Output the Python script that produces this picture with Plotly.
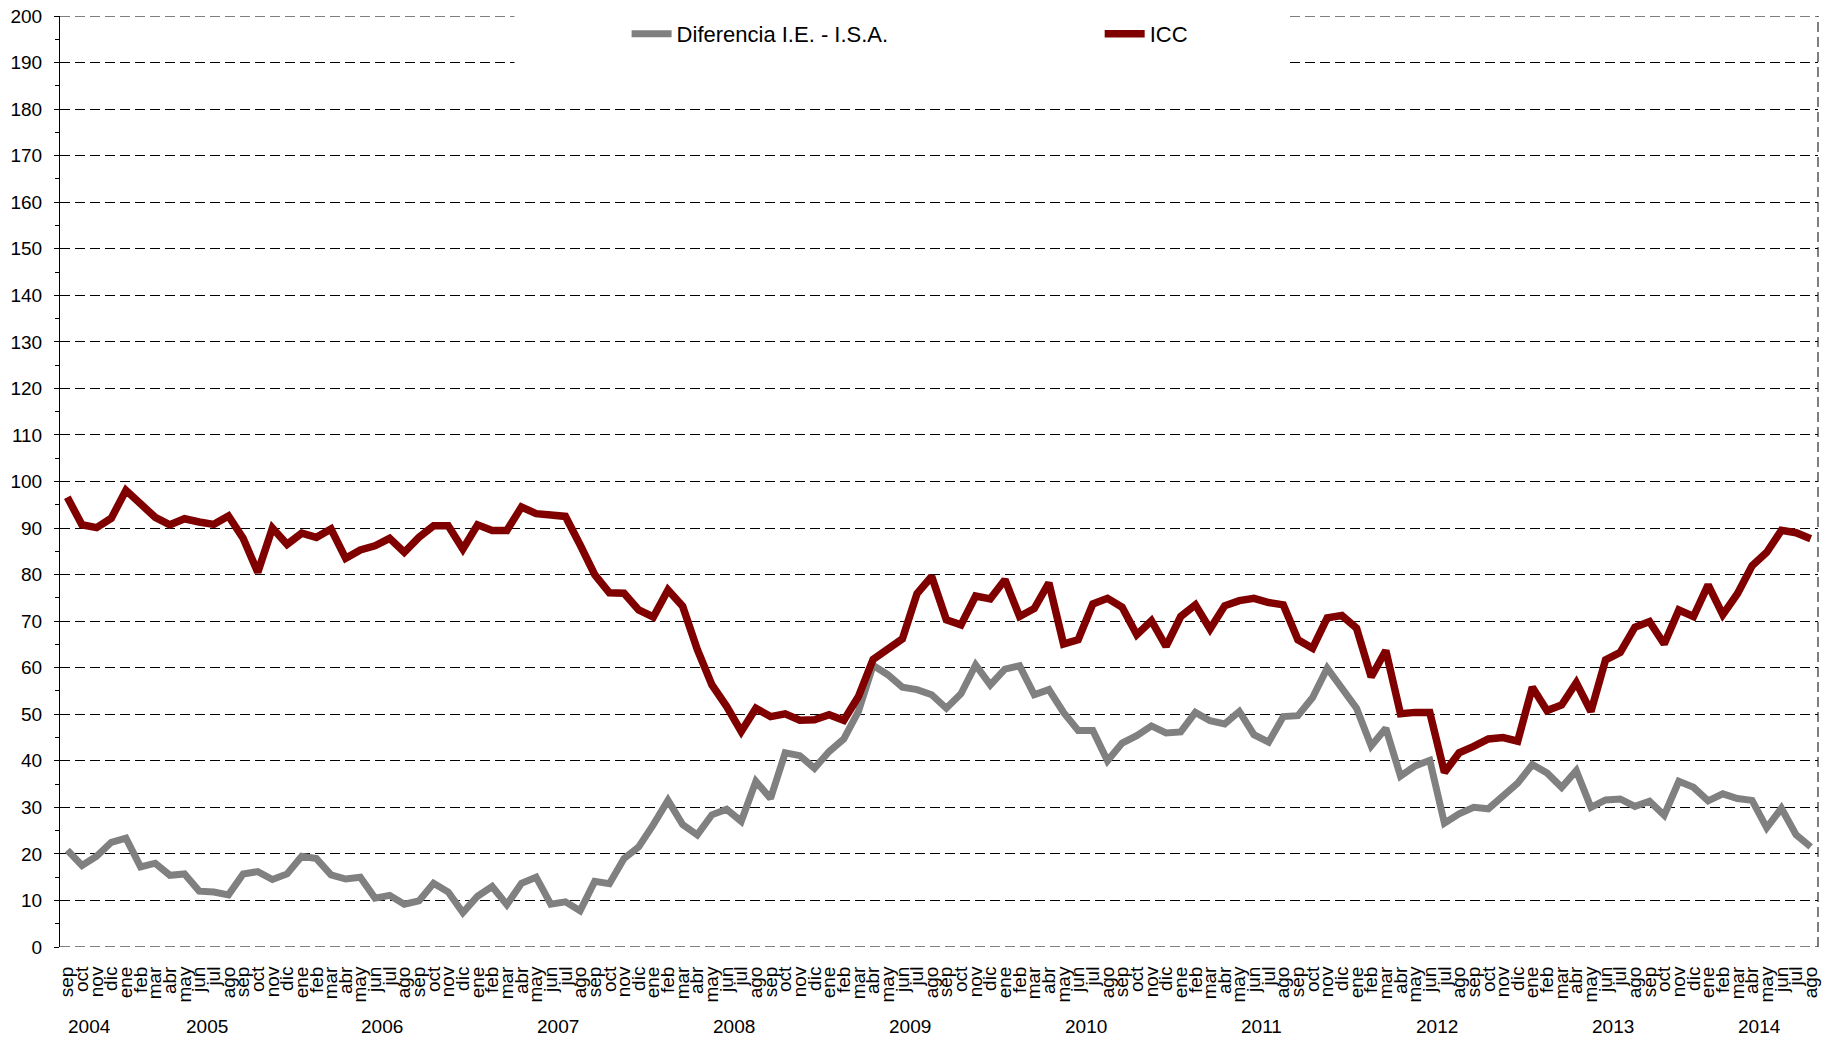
import plotly.graph_objects as go

# ---- data ----
month_names = ["ene", "feb", "mar", "abr", "may", "jun", "jul", "ago", "sep", "oct", "nov", "dic"]
start_year = 2004
start_month = 9  # sep
n_months = 120

icc = [96.6, 90.7, 90.1, 92.1, 98.1, 95.0, 92.3, 90.7, 92.0, 91.3, 90.8, 92.6,
       87.8, 80.5, 90.0, 86.5, 88.9, 88.0, 89.8, 83.5, 85.3, 86.2, 87.8, 84.8,
       88.0, 90.5, 90.5, 85.5, 90.7, 89.5, 89.5, 94.5, 93.1, 92.8, 92.5, 86.4,
       80.0, 76.1, 76.0, 72.4, 70.9, 76.7, 73.2, 63.9, 56.3, 51.7, 46.3, 51.3,
       49.5, 50.1, 48.7, 48.8, 49.9, 48.7, 53.8, 61.8, 63.9, 66.2, 75.9, 79.6,
       70.3, 69.2, 75.4, 74.8, 78.9, 71.0, 72.7, 78.2, 65.1, 66.0, 73.7, 74.9,
       73.0, 67.1, 70.1, 64.6, 71.0, 73.5, 68.3, 73.3, 74.4, 74.9, 74.0, 73.5,
       66.0, 64.2, 70.7, 71.2, 68.5, 58.0, 63.7, 50.1, 50.4, 50.4, 37.5, 41.7,
       43.1, 44.7, 45.0, 44.2, 55.8, 50.8, 52.0, 56.8, 50.6, 61.7, 63.3, 68.7,
       69.9, 65.1, 72.4, 71.0, 77.8, 71.4, 75.9, 81.9, 84.8, 89.5, 89.0, 87.7]

diferencia = [20.8, 17.5, 19.5, 22.5, 23.4, 17.2, 18.0, 15.4, 15.7, 12.0, 11.8, 11.2,
              15.7, 16.2, 14.5, 15.7, 19.5, 19.0, 15.5, 14.6, 15.0, 10.5, 11.1, 9.2,
              9.9, 13.7, 11.8, 7.4, 10.9, 13.0, 9.1, 13.7, 15.0, 9.2, 9.7, 7.8,
              14.1, 13.6, 19.0, 21.5, 26.3, 31.5, 26.3, 24.1, 28.4, 29.6, 27.0, 35.6,
              31.9, 41.7, 41.1, 38.4, 42.0, 44.7, 50.6, 60.5, 58.5, 55.8, 55.3, 54.2,
              51.3, 54.4, 60.6, 56.3, 59.7, 60.4, 54.2, 55.3, 50.4, 46.5, 46.5, 40.0,
              43.8, 45.4, 47.5, 46.0, 46.2, 50.4, 48.6, 47.9, 50.6, 45.6, 44.0, 49.5,
              49.7, 53.6, 59.9, 55.8, 51.3, 43.2, 47.0, 36.7, 38.9, 40.1, 26.6, 28.6,
              30.0, 29.7, 32.3, 35.2, 39.2, 37.4, 34.3, 37.9, 30.0, 31.6, 31.8, 30.2,
              31.3, 28.3, 35.6, 34.3, 31.4, 32.9, 31.9, 31.5, 25.6, 29.8, 24.1, 21.5]

# period keys and tick labels
periods = []
month_labels = []
years = []
for k in range(n_months):
    m0 = start_month - 1 + k
    y = start_year + m0 // 12
    periods.append(f"{y}-{m0 % 12 + 1:02d}")
    month_labels.append(month_names[m0 % 12])
    years.append(y)

year_list = sorted(set(years))

RED = "#800000"
GRAY = "#808080"
FONT = "Arial, Liberation Sans, sans-serif"
DASH = "10px,5px"

fig = go.Figure()
fig.add_trace(go.Scatter(x=periods, y=diferencia, mode="lines", name="Diferencia I.E. - I.S.A.",
                         line=dict(color=GRAY, width=7), legend="legend", showlegend=True))
fig.add_trace(go.Scatter(x=periods, y=icc, mode="lines", name="ICC",
                         line=dict(color=RED, width=7.5), legend="legend2", showlegend=True))

# year labels centered under each year's months
for yr in year_list:
    idx = [i for i, v in enumerate(years) if v == yr]
    mid = (idx[0] + idx[-1]) / 2
    fig.add_annotation(x=mid, y=-0.0859, xref="x", yref="paper", text=str(yr),
                       showarrow=False, font=dict(size=19, color="black", family=FONT),
                       xanchor="center", yanchor="middle")

# dashed lines at the range ends (0 and 200) and dashed right border
for yv in (0, 200):
    fig.add_shape(type="line", xref="paper", yref="y", x0=0, x1=1, y0=yv, y1=yv,
                  line=dict(color="black", width=1, dash=DASH), layer="below")
fig.add_shape(type="line", xref="paper", yref="paper", x0=1, x1=1, y0=0, y1=1,
              line=dict(color="black", width=1, dash=DASH), layer="above")
# white area behind legend
fig.add_shape(type="rect", xref="paper", yref="paper", x0=0.2585, x1=0.697, y0=0.935, y1=1.02,
              fillcolor="white", line=dict(width=0), layer="above")

fig.update_layout(
    width=1823, height=1042,
    margin=dict(l=60, r=2, t=16, b=95),
    showlegend=True,
    paper_bgcolor="white", plot_bgcolor="white",
    font=dict(family=FONT, color="black"),
    legend=dict(orientation="h", x=0.3223, y=0.9807, xanchor="left", yanchor="middle",
                itemwidth=40, bgcolor="rgba(0,0,0,0)", font=dict(size=22, color="black", family=FONT)),
    legend2=dict(orientation="h", x=0.5914, y=0.9807, xanchor="left", yanchor="middle",
                 itemwidth=40, bgcolor="rgba(0,0,0,0)", font=dict(size=22, color="black", family=FONT)),
    xaxis=dict(type="category", categoryorder="array", categoryarray=periods,
               range=[-0.5, n_months - 0.5], tickmode="array", tickvals=periods, ticktext=month_labels,
               tickangle=-90, tickfont=dict(size=19, color="black"), showgrid=False, zeroline=False,
               showline=False, ticks="outside", ticklen=11, tickcolor="rgba(0,0,0,0)",
               ticklabeloverflow="allow"),
    yaxis=dict(range=[0, 200], dtick=10, tickfont=dict(size=19, color="black"),
               showgrid=True, gridcolor="black", gridwidth=1, griddash=DASH,
               zeroline=False, showline=True, linecolor="black", linewidth=1,
               ticks="outside", ticklen=5, tickcolor="black", ticklabelstandoff=8,
               ticklabeloverflow="allow",
               minor=dict(dtick=5, ticks="outside", ticklen=4, tickcolor="black", showgrid=False)),
)

fig.write_html("out.html", config={"displayModeBar": False},
               post_script="document.body.style.margin='0';document.body.style.padding='0';")
